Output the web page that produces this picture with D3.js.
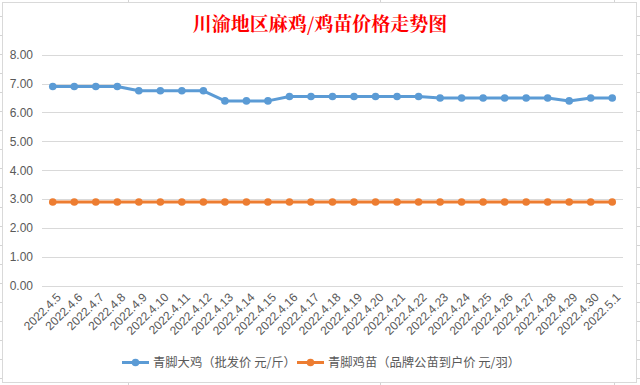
<!DOCTYPE html>
<html><head><meta charset="utf-8">
<script src="https://cdn.jsdelivr.net/npm/d3@7/dist/d3.min.js"></script>
<style>body{margin:0;background:#fff;}svg{display:block;}</style>
</head><body>
<svg id="c" width="640" height="385"></svg>
<script>
const categories = ["2022.4.5","2022.4.6","2022.4.7","2022.4.8","2022.4.9","2022.4.10","2022.4.11","2022.4.12","2022.4.13","2022.4.14","2022.4.15","2022.4.16","2022.4.17","2022.4.18","2022.4.19","2022.4.20","2022.4.21","2022.4.22","2022.4.23","2022.4.24","2022.4.25","2022.4.26","2022.4.27","2022.4.28","2022.4.29","2022.4.30","2022.5.1"];
const bigChicken = [6.9,6.9,6.9,6.9,6.75,6.75,6.75,6.75,6.4,6.4,6.4,6.55,6.55,6.55,6.55,6.55,6.55,6.55,6.5,6.5,6.5,6.5,6.5,6.5,6.4,6.5,6.5];
const chick = [2.9,2.9,2.9,2.9,2.9,2.9,2.9,2.9,2.9,2.9,2.9,2.9,2.9,2.9,2.9,2.9,2.9,2.9,2.9,2.9,2.9,2.9,2.9,2.9,2.9,2.9,2.9];
const yTicks = [0,1,2,3,4,5,6,7,8];
const seriesNames = ["青脚大鸡（批发价 元/斤）","青脚鸡苗（品牌公苗到户价 元/羽）"];
const title = "川渝地区麻鸡/鸡苗价格走势图";

const colors = ["#5B9BD5","#ED7D31"];
const svg = d3.select("#c");
const numFont = "'Liberation Sans Narrow','Arial Narrow','Liberation Sans',sans-serif";
const xFont = "'Liberation Sans','Arial',sans-serif";
const cjkFont = "'Noto Sans CJK SC','Microsoft YaHei',sans-serif";
const titleFont = "'Noto Serif CJK SC','SimSun','Noto Sans CJK SC',serif";

// spreadsheet background lines
const sheet = svg.append("g").attr("stroke","#D4D4D4").attr("stroke-width",1);
[128,380,614].forEach(x=>sheet.append("line").attr("x1",x+0.5).attr("x2",x+0.5).attr("y1",0).attr("y2",385));
d3.range(0,21).forEach(k=>{const y=Math.round(16+19.05*k)+0.5; sheet.append("line").attr("x1",0).attr("x2",640).attr("y1",y).attr("y2",y);});
// chart area
svg.append("rect").attr("x",2.5).attr("y",2.5).attr("width",634).attr("height",380)
  .attr("fill","#fff").attr("stroke","#D9D9D9").attr("stroke-width",1);

const x = d3.scaleBand().domain(categories).range([42,623]);
const y = d3.scaleLinear().domain([0,8]).range([285.7,54.7]);

// gridlines
svg.append("g").selectAll("line").data(yTicks).join("line")
  .attr("x1",42).attr("x2",623)
  .attr("y1",d=>Math.round(y(d))+0.5).attr("y2",d=>Math.round(y(d))+0.5)
  .attr("stroke","#D9D9D9").attr("stroke-width",1);

// y labels
const yAxis = d3.axisLeft(y).tickValues(yTicks).tickFormat(d3.format(".2f")).tickSize(0).tickPadding(0);
const yg = svg.append("g").attr("transform","translate(33,0)").call(yAxis);
yg.select(".domain").remove();
yg.selectAll("text").attr("font-family",numFont).attr("font-size",12).attr("fill","#595959");

// x labels
const xAxis = d3.axisBottom(x).tickSize(0).tickPadding(0);
const xg = svg.append("g").attr("transform","translate(0,290)").call(xAxis);
xg.select(".domain").remove();
xg.selectAll("text").attr("font-family",xFont).attr("font-size",12).attr("fill","#595959")
  .attr("text-anchor","end").attr("dy",null).attr("y",0)
  .attr("transform","translate(9,8) rotate(-45)");

// series
const cx = d => x(d) + x.bandwidth()/2;
[bigChicken, chick].forEach((vals,i)=>{
  const line = d3.line().x((d,j)=>cx(categories[j])).y(d=>y(d));
  svg.append("path").datum(vals).attr("d",line).attr("fill","none")
    .attr("stroke",colors[i]).attr("stroke-width",3).attr("stroke-linejoin","round").attr("stroke-linecap","round");
  svg.append("g").selectAll("circle").data(vals).join("circle")
    .attr("cx",(d,j)=>cx(categories[j])).attr("cy",d=>y(d)).attr("r",3.8).attr("fill",colors[i]);
});

// title
svg.append("text").attr("x",320).attr("y",31).attr("text-anchor","middle")
  .attr("font-family",titleFont).attr("font-size",19).attr("font-weight",700).attr("fill","#FF0000").text(title);

// legend
const legendPos = [{lx:122,tx:153},{lx:297,tx:328}];
seriesNames.forEach((n,i)=>{
  const p = legendPos[i], ly = 362.5;
  svg.append("line").attr("x1",p.lx).attr("x2",p.lx+27).attr("y1",ly).attr("y2",ly).attr("stroke",colors[i]).attr("stroke-width",3);
  svg.append("circle").attr("cx",p.lx+13.5).attr("cy",ly).attr("r",3.8).attr("fill",colors[i]);
  svg.append("text").attr("x",p.tx).attr("y",ly+4.5).attr("font-family",cjkFont).attr("font-size",12.3).attr("fill","#595959").text(n);
});
</script>
</body></html>
